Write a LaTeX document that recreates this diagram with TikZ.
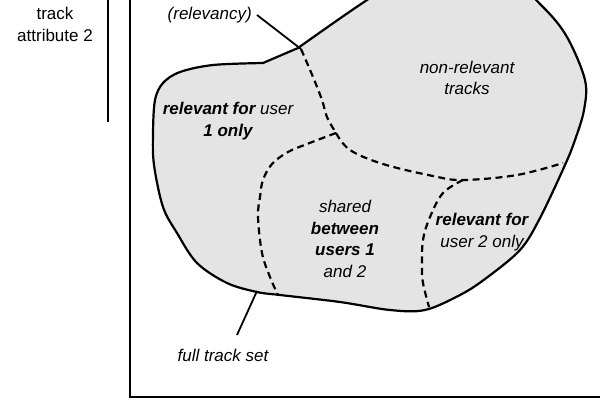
\documentclass[tikz,border=0pt]{standalone}
\usepackage{fontspec}
\setmainfont{Liberation Sans}
\definecolor{fillgray}{RGB}{228,228,228}
\begin{document}
\begin{tikzpicture}[x=1pt,y=-1pt,
  blob/.style={draw=black, line width=2.2pt, fill=fillgray, line join=round},
  divider/.style={dash pattern=on 7pt off 4.5pt, line width=2.2pt},
  axis/.style={line width=2pt},
  bar/.style={line width=2.8pt},
  leader/.style={line width=1.8pt},
  lbl/.style={font=\fontsize{17}{21.5}\selectfont\itshape, align=center, inner sep=0pt}]
\useasboundingbox (0,0) rectangle (600,400);
\clip (0,0) rectangle (600,400);
% outline of the full track set
\path[blob] (298,48) -- (263,63) -- plot[smooth, tension=0.55] coordinates {(263,63) (213,65) (180,72) (163,83) (155,100) (153,133) (154,165) (163,207) (177,233) (197,263) (227,283) (257,292) (280,295) (340,302) (390,310) (425,310) (460,295) (485,279) (520,250) (540,218) (565,165) (575,140) (584,110) (585,80) (567,37) (543,7) (500,-30) (440,-45) (367,0) (298,48)} -- cycle;
% junctions
\coordinate (T) at (301,49);
\coordinate (J) at (336,133);
\coordinate (K) at (463,180);
\coordinate (E) at (563,163);
\coordinate (B1) at (278,295);
\coordinate (B2) at (429,307);
% dashed dividers
\draw[divider] plot[smooth, tension=0.6] coordinates {(T) (313,77) (322,100) (327,117) (J)};
\draw[divider] plot[smooth, tension=0.6] coordinates {(J) (350,150) (383,164) (433,176) (K) (517,175) (E)};
\draw[divider] plot[smooth, tension=0.6] coordinates {(J) (307,144) (288,152) (272,164) (263,180) (260,197) (258,217) (262,253) (270,277) (B1)};
\draw[divider] plot[smooth, tension=0.6] coordinates {(K) (443,193) (430,217) (423,240) (422,267) (423,283) (B2)};
% axes
\coordinate (top) at (130,0);
\coordinate (origin) at (130,397);
\coordinate (right) at (600,397);
\draw[axis] (top) -- (origin) -- (right);
\coordinate (bartop) at (108,0);
\coordinate (barbot) at (108,122);
\draw[bar] (bartop) -- (barbot);
% labels
\node[lbl, font=\fontsize{17}{22}\selectfont\upshape] (attr) at (55,24) {track\\attribute 2};
\node[lbl, anchor=east] (relev) at (252,15) {(relevancy)};
\node[lbl] (user1) at (228,121) {\textbf{relevant for} user\\\textbf{1 only}};
\node[lbl] (nonrel) at (467,78) {non-relevant\\tracks};
\node[lbl] (shared) at (345,239) {shared\\\textbf{between}\\\textbf{users 1}\\and 2};
\node[lbl] (user2) at (482,232) {\textbf{relevant for}\\user 2 only};
\node[lbl] (full) at (223,355) {full track set};
\coordinate (fullend) at (257,291);
\coordinate (fullstart) at (237,335);
% leader lines
\draw[leader] (relev.east) ++(5,0) coordinate (rl) -- (T);
\draw[leader] (fullstart) -- (fullend);
\end{tikzpicture}
\end{document}
